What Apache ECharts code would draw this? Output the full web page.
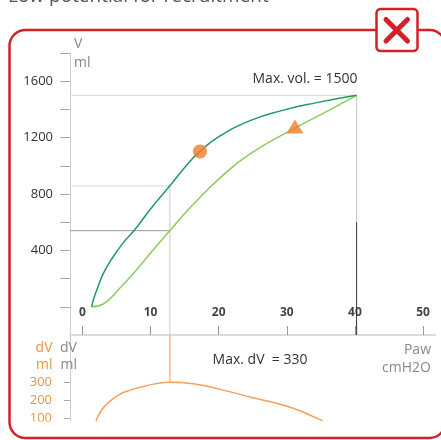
<!DOCTYPE html>
<html><head><meta charset="utf-8">
<script src="https://cdn.jsdelivr.net/npm/echarts@6/dist/echarts.min.js"></script>
<style>html,body{margin:0;padding:0;background:#fff;overflow:hidden}#c{width:441px;height:440px}</style>
</head><body><div id="c"></div>
<script>
// ---- data ----
const xTicks = [0, 10, 20, 30, 40, 50];
const vTicks = [0, 200, 400, 600, 800, 1000, 1200, 1400, 1600, 1800];
const vLabels = [400, 800, 1200, 1600];
const dvTicks = [100, 200, 300];
// deflation limb (upper, dark green): [Paw, V]
const upperPV = [[1.35,0],[1.6,50],[2.1,120],[3.05,235],[4.5,355],[6,455],[7.7,548],[9.9,688],[12.83,858],[15.76,1031],[17.25,1101],[19.7,1196],[24.6,1320],[29.5,1395],[34.4,1448],[40.25,1500]];
// inflation limb (lower, light green): [Paw, V]
const lowerPV = [[1.35,0],[3.05,20],[5.5,133],[7.95,263],[10.15,390],[12.83,540],[15.76,701],[20.2,914],[24.6,1085],[31.2,1267],[36.3,1397],[40.25,1500]];
// dV curve: [Paw, dV]
const dvCurve = [[1.98,82],[2.8,145],[4.03,194],[5.2,228],[6.48,251],[9.41,283],[12.83,302],[16.24,294],[20.2,262],[25.05,214],[30.4,162],[34.8,92],[35.3,82]];
const circleMarker = [[17.25, 1101]];
const triangleMarker = [[31.2, 1279]];
const maxVol = 1500, maxVolP = 40.25;
const crossP = 12.83, crossUpperV = 858, crossLowerV = 540, dvPeak = 302;
const darkFromV = 600;
const X_MIN = -1.835, X_MAX = 51.76;
const V_MIN = -200, V_MAX = 1800;
const DV_MIN = 80, DV_MAX = 570;

const FONT = 'Open Sans';
const RED = '#d42027';
const ORANGE = '#f3913f';

const chart = echarts.init(document.getElementById('c'), null, {renderer: 'canvas'});
const plain = v => String(v);

function seg(points, color, width, xi) {
  return {type: 'line', xAxisIndex: xi || 0, yAxisIndex: xi || 0, data: points, symbol: 'none',
    lineStyle: {color: color, width: width || 1}, silent: true, animation: false, z: 1};
}

function txt(x, y, text, fill, size, align, valign) {
  return {type: 'text', x: x, y: y, silent: true, z: 100,
    style: {text: text, fill: fill, fontSize: size, fontFamily: FONT,
      align: align || 'left', textAlign: align || 'left',
      verticalAlign: valign || 'middle', textVerticalAlign: valign || 'middle'}};
}

const option = {
  animation: false,
  backgroundColor: '#fff',
  grid: [
    {left: 70, top: 53, width: 365, height: 282},
    {left: 70, top: 335, width: 365, height: 86.5}
  ],
  xAxis: [
    {gridIndex: 0, type: 'value', min: X_MIN, max: X_MAX, position: 'bottom',
      axisLine: {show: true, onZero: false, lineStyle: {color: '#dcdcdc', width: 2}},
      axisTick: {show: true, inside: true, length: 9, customValues: xTicks, lineStyle: {color: '#999'}},
      axisLabel: {inside: true, margin: 16, customValues: xTicks, formatter: plain, color: '#444', fontWeight: 'bold', fontSize: 12, fontFamily: FONT},
      splitLine: {show: false}},
    {gridIndex: 1, type: 'value', min: X_MIN, max: X_MAX, show: false}
  ],
  yAxis: [
    {gridIndex: 0, type: 'value', min: V_MIN, max: V_MAX,
      axisLine: {show: true, onZero: false, lineStyle: {color: '#cfcfcf', width: 1}},
      axisTick: {show: true, length: 10, customValues: vTicks, lineStyle: {color: '#aaa'}},
      axisLabel: {margin: 17, customValues: vLabels, formatter: plain, color: '#333', fontSize: 13, fontFamily: FONT},
      splitLine: {show: false}},
    {gridIndex: 1, type: 'value', min: DV_MIN, max: DV_MAX,
      axisLine: {show: true, onZero: false, lineStyle: {color: '#cfcfcf', width: 1}},
      axisTick: {show: true, length: 6, customValues: dvTicks, lineStyle: {color: '#aaa'}},
      axisLabel: {margin: 18, customValues: dvTicks, formatter: plain, color: ORANGE, fontSize: 13, fontFamily: FONT},
      splitLine: {show: false}}
  ],
  series: [
    seg([[X_MIN, maxVol], [maxVolP, maxVol]], '#dedede', 1.2),
    seg([[maxVolP, maxVol], [maxVolP, darkFromV]], '#cccccc', 1.2),
    seg([[maxVolP, darkFromV], [maxVolP, V_MIN]], '#333333', 1),
    seg([[X_MIN, crossUpperV], [crossP, crossUpperV]], '#dedede', 1.2),
    seg([[crossP, crossUpperV], [crossP, V_MIN]], '#d0d0d0', 1.2),
    seg([[X_MIN, crossLowerV], [crossP, crossLowerV]], '#9a9a9a', 1),
    seg([[crossP, DV_MAX], [crossP, dvPeak]], '#f7a86a', 1.2, 1),
    {type: 'line', data: lowerPV, smooth: 0.5, symbol: 'none', lineStyle: {color: '#8fcb5b', width: 1.5}, z: 3, silent: true},
    {type: 'line', data: upperPV, smooth: 0.5, symbol: 'none', lineStyle: {color: '#1f9c5d', width: 1.5}, z: 3, silent: true},
    {type: 'line', xAxisIndex: 1, yAxisIndex: 1, data: dvCurve, smooth: 0.5, symbol: 'none', lineStyle: {color: '#f5a05a', width: 1.5}, z: 3, silent: true},
    {type: 'scatter', data: circleMarker, symbol: 'circle', symbolSize: 14, itemStyle: {color: '#f07d27'}, z: 5, silent: true},
    {type: 'scatter', data: triangleMarker, symbol: 'triangle', symbolSize: [17, 14], itemStyle: {color: '#f07d27'}, z: 5, silent: true}
  ],
  graphic: [
    txt(8, 6, 'Low potential for recruitment', '#555', 19, 'left', 'bottom'),
    {type: 'rect', z: 90, silent: true, shape: {x: 0, y: 421.5, width: 441, height: 15}, style: {fill: '#fff'}},
    {type: 'rect', z: 95, silent: true, shape: {x: 9.5, y: 30, width: 436, height: 408, r: 16}, style: {fill: 'none', stroke: RED, lineWidth: 2.5}},
    {type: 'rect', z: 96, silent: true, shape: {x: 376.5, y: 9, width: 41, height: 42, r: 4}, style: {fill: '#fff', stroke: RED, lineWidth: 2.5}},
    {type: 'line', z: 97, silent: true, shape: {x1: 386, y1: 19.5, x2: 407.5, y2: 41}, style: {stroke: RED, lineWidth: 5, lineCap: 'round'}},
    {type: 'line', z: 97, silent: true, shape: {x1: 407.5, y1: 19.5, x2: 386, y2: 41}, style: {stroke: RED, lineWidth: 5, lineCap: 'round'}},
    txt(74, 44, 'V', '#888', 14),
    txt(74, 63, 'ml', '#888', 14),
    txt(305, 79, 'Max. vol. = 1500', '#333', 14, 'center'),
    txt(52.5, 348, 'dV', ORANGE, 14, 'right'),
    txt(52.5, 365, 'ml', ORANGE, 14, 'right'),
    txt(60, 348, 'dV', '#888', 14),
    txt(60.5, 365, 'ml', '#888', 14),
    txt(260, 360.5, 'Max. dV  = 330', '#333', 14, 'center'),
    txt(431, 350, 'Paw', '#888', 14, 'right'),
    txt(431, 368, 'cmH2O', '#888', 14, 'right')
  ]
};
chart.setOption(option);
</script></body></html>
